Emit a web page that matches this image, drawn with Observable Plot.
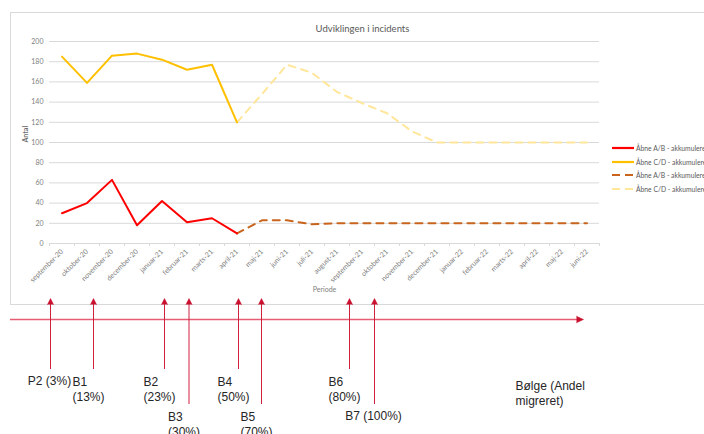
<!DOCTYPE html>
<html><head><meta charset="utf-8">
<script src="https://cdn.jsdelivr.net/npm/d3@7"></script>
<script src="https://cdn.jsdelivr.net/npm/@observablehq/plot@0.6"></script>
<style>
html,body{margin:0;padding:0;background:#fff;overflow:hidden;}
#wrap{position:relative;width:704px;height:434px;overflow:hidden;font-family:Lato,sans-serif;}
#frame{position:absolute;left:10px;top:12px;width:720px;height:291px;border:1px solid #d9d9d9;}
#chart,#notes{position:absolute;left:0;}
#chart{top:0;}
#notes{top:290px;}
.leg{position:absolute;left:612px;height:8px;font-size:6.75px;color:#595959;white-space:nowrap;display:flex;align-items:center;}
.leg svg{margin-right:2px;}
</style></head><body>
<div id="wrap"><div id="frame"></div><div id="chart"></div><div id="legend"></div><div id="notes"></div></div>
<script>
// ---- data ----
const months = ["september-20","oktober-20","november-20","december-20","januar-21","februar-21","marts-21","april-21","maj-21","juni-21","juli-21","august-21","september-21","oktober-21","november-21","december-21","januar-22","februar-22","marts-22","april-22","maj-22","juni-22"];
const abActual = [30,40,63,18,42,21,25,10];
const cdActual = [185,159,186,188,182,172,177,120];
const forecastStart = 7; // april-21
const abForecast = [10,23,23,19,20,20,20,20,20,20,20,20,20,20,20];
const cdForecast = [120,148,177,169,150,139,129,111,100,100,100,100,100,100,100];
const yTicks = [0,20,40,60,80,100,120,140,160,180,200];
const seriesNames = ["Åbne A/B - akkumuleret","Åbne C/D - akkumuleret","Åbne A/B - akkumuleret","Åbne C/D - akkumuleret"];
const seriesColors = ["#ff0000","#ffc000","#c9641c","#ffe699"];
const seriesDashed = [false,false,true,true];
// migration waves along the timeline (position in month index units)
const waveLabels = ["P2 (3%)","B1\n(13%)","B2\n(23%)","B3\n(30%)","B4\n(50%)","B5\n(70%)","B6\n(80%)","B7 (100%)"];
const wavePos = [-0.46,1.26,4.1,5.08,7.06,7.98,11.5,12.5];
const waveRow = [1,1,1,2,1,2,1,2];
const timelineStart = -2.06, timelineEnd = 20.86;
const timelineLabel = "Bølge (Andel\nmigreret)";
const timelineLabelPos = 18.14;

// ---- chart ----
const idx = months.map((_, i) => i);
const bounds = d3.range(-0.5, months.length, 1);
const xDomain = [-0.5, months.length - 0.5];

const chart = Plot.plot({
  width: 704, height: 305,
  marginLeft: 49, marginRight: 105, marginTop: 41, marginBottom: 62,
  style: {fontFamily: "Lato, sans-serif", background: "transparent", overflow: "visible"},
  x: {domain: xDomain, axis: null},
  y: {domain: [0, 200], axis: null},
  marks: [
    Plot.ruleY(yTicks, {stroke: "#d9d9d9", strokeWidth: 1}),
    Plot.axisY({ticks: yTicks, tickSize: 0, tickPadding: 6, fontSize: 7, fill: "#808080", label: null}),
    Plot.axisX({ticks: bounds, tickSize: 3, stroke: "#d9d9d9", tickFormat: () => "", label: null}),
    Plot.axisX({ticks: idx, tickSize: 0, tickPadding: 7, tickRotate: -45, tickFormat: i => months[i], fontSize: 7, fill: "#808080", label: null}),
    Plot.line(cdForecast, {x: (d, i) => i + forecastStart, y: d => d, stroke: seriesColors[3], strokeWidth: 2, strokeDasharray: "7,6"}),
    Plot.line(abForecast, {x: (d, i) => i + forecastStart, y: d => d, stroke: seriesColors[2], strokeWidth: 2, strokeDasharray: "7,6"}),
    Plot.line(cdActual, {x: (d, i) => i, y: d => d, stroke: seriesColors[1], strokeWidth: 2, strokeLinejoin: "round"}),
    Plot.line(abActual, {x: (d, i) => i, y: d => d, stroke: seriesColors[0], strokeWidth: 2, strokeLinejoin: "round"}),
    Plot.text(["Udviklingen i incidents"], {frameAnchor: "top", dx: 38, dy: -16, fontSize: 9.5, fill: "#595959"}),
    Plot.text(["Antal"], {frameAnchor: "left", rotate: -90, dx: -24, fontSize: 7, fill: "#707070", fontWeight: "bold"}),
    Plot.text(["Periode"], {frameAnchor: "bottom", dy: 48, fontSize: 7, fill: "#808080"})
  ]
});
document.getElementById("chart").appendChild(chart);

// ---- legend ----
const legend = document.getElementById("legend");
seriesNames.forEach((name, k) => {
  const row = document.createElement("div");
  row.className = "leg";
  row.style.top = (144 + k * 13.5) + "px";
  row.innerHTML = `<svg width="22" height="4"><line x1="0" x2="22" y1="2" y2="2" stroke="${seriesColors[k]}" stroke-width="2.2" ${seriesDashed[k] ? 'stroke-dasharray="8,5"' : ''}/></svg><span>${name}</span>`;
  legend.appendChild(row);
});

// ---- timeline annotations ----
const waves = waveLabels.map((label, k) => ({label, pos: wavePos[k], row: waveRow[k], single: !label.includes("\n")}));
const notes = Plot.plot({
  width: 704, height: 144,
  marginLeft: 49, marginRight: 105, marginTop: 0, marginBottom: 0,
  style: {fontFamily: "'Liberation Sans', Arial, sans-serif", background: "transparent", overflow: "visible"},
  x: {domain: xDomain, axis: null},
  y: {domain: [0, 144], range: [0, 144], axis: null},
  marks: [
    Plot.ruleY([29], {x1: timelineStart, x2: timelineEnd - 0.2, stroke: "#e35d75", strokeWidth: 1.3}),
    Plot.vector([timelineEnd], {x: d => d, y: 29, rotate: 90, length: 7, r: 3.2, shape: "spike", anchor: "end", fill: "#c8102e", stroke: "#c8102e", strokeWidth: 0.5}),
    Plot.ruleX(waves, {x: "pos", y1: 13, y2: d => d.row === 1 ? 79 : 114, stroke: "#d0213f", strokeWidth: 1}),
    Plot.vector(waves, {x: "pos", y: 8, length: 6, r: 3, shape: "spike", anchor: "end", fill: "#c8102e", stroke: "#c8102e", strokeWidth: 0.5}),
    Plot.text(waves.filter(d => !d.single), {x: "pos", y: d => d.row === 1 ? 86 : 121, text: "label", dx: -21, textAnchor: "start", lineAnchor: "top", fontSize: 12, lineHeight: 1.17, fill: "#262626"}),
    Plot.text(waves.filter(d => d.single), {x: "pos", y: d => d.row === 1 ? 86 : 121, text: "label", dx: -1, textAnchor: "middle", lineAnchor: "top", fontSize: 12, fill: "#262626"}),
    Plot.text([timelineLabel], {x: timelineLabelPos, y: 90, textAnchor: "start", lineAnchor: "top", fontSize: 12, lineHeight: 1.17, fill: "#262626"})
  ]
});
document.getElementById("notes").appendChild(notes);
</script>
</body></html>
